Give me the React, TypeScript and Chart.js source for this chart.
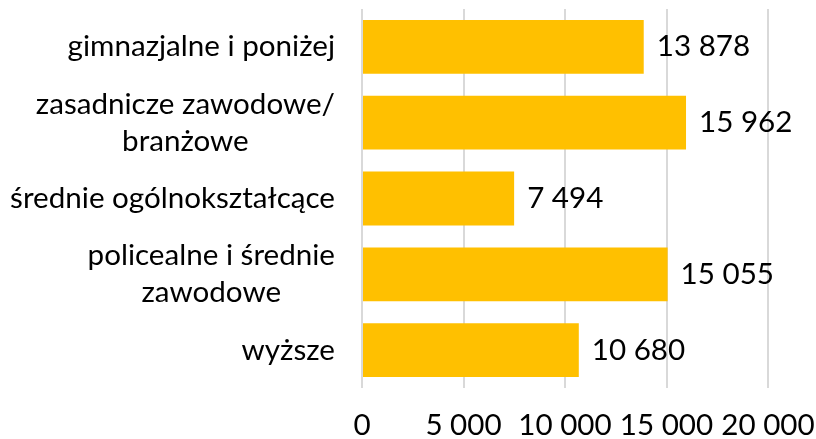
import React, { useEffect, useRef } from "react";
import { Chart, registerables } from "chart.js";

Chart.register(...registerables);

const categories: string[][] = [
  ["gimnazjalne i poniżej"],
  ["zasadnicze zawodowe/", "branżowe"],
  ["średnie ogólnokształcące"],
  ["policealne i średnie", "zawodowe"],
  ["wyższe"],
];
const values = [13878, 15962, 7494, 15055, 10680];
const xTicks = [0, 5000, 10000, 15000, 20000];

const fmt = (v: number) => v.toString().replace(/\B(?=(\d{3})+(?!\d))/g, " ");

const FONT = "Lato, 'Noto Sans', sans-serif";
const FS = 29.6;
const LINE_H = 37;

const labelPlugin = {
  id: "customLabels",
  afterDatasetsDraw(chart: any) {
    const ctx = chart.ctx;
    const meta = chart.getDatasetMeta(0);
    const yScale = chart.scales.y;
    const area = chart.chartArea;
    ctx.save();
    ctx.font = `${FS}px ${FONT}`;
    ctx.fillStyle = "#000000";
    ctx.textBaseline = "middle";
    // value labels
    ctx.textAlign = "left";
    meta.data.forEach((el: any, i: number) => {
      ctx.fillText(fmt(values[i]), el.x + 13, el.y);
    });
    // category labels: block right-aligned, lines centered within block
    ctx.textAlign = "center";
    const rightX = area.left - 27;
    categories.forEach((lines, i) => {
      const cy = yScale.getPixelForTick(i);
      const widest = Math.max(...lines.map((l) => ctx.measureText(l).width));
      const cx = rightX - widest / 2;
      const startY = cy - ((lines.length - 1) * LINE_H) / 2;
      lines.forEach((l, j) => {
        ctx.fillText(l, cx, startY + j * LINE_H);
      });
    });
    ctx.restore();
  },
};

export default function App() {
  const ref = useRef<HTMLCanvasElement>(null);
  useEffect(() => {
    if (!ref.current) return;
    document.body.style.margin = "0";
    const chart = new Chart(ref.current, {
      type: "bar",
      data: {
        labels: categories.map((l) => l.join(" ")),
        datasets: [
          {
            data: values,
            backgroundColor: "#FFC000",
            categoryPercentage: 0.71,
            barPercentage: 1,
          },
        ],
      },
      options: {
        animation: false,
        responsive: false,
        indexAxis: "y",
        layout: { padding: { top: 9, right: 48, left: 0, bottom: 0 } },
        plugins: { legend: { display: false }, tooltip: { enabled: false } },
        scales: {
          x: {
            min: 0,
            max: 20000,
            afterBuildTicks: (axis: any) => {
              axis.ticks = xTicks.map((v) => ({ value: v }));
            },
            afterFit: (scale: any) => {
              scale.height = 51;
              scale.paddingLeft = 0;
              scale.paddingRight = 0;
            },
            grid: { color: "#d9d9d9", lineWidth: 2, drawTicks: false },
            border: { display: false },
            ticks: {
              color: "#000000",
              font: { family: FONT, size: FS },
              padding: 20,
              maxRotation: 0,
              autoSkip: false,
              callback: (v: any) => fmt(Number(v)),
            },
          },
          y: {
            grid: { display: false, drawTicks: false },
            border: { display: false },
            ticks: { display: false, autoSkip: false },
            afterFit: (scale: any) => {
              scale.width = 362;
              scale.paddingTop = 0;
              scale.paddingBottom = 0;
            },
          },
        },
      },
      plugins: [labelPlugin],
    });
    return () => chart.destroy();
  }, []);
  return (
    <div style={{ width: 816, height: 439 }}>
      <canvas ref={ref} width={816} height={439} style={{ width: 816, height: 439, display: "block" }} />
    </div>
  );
}
